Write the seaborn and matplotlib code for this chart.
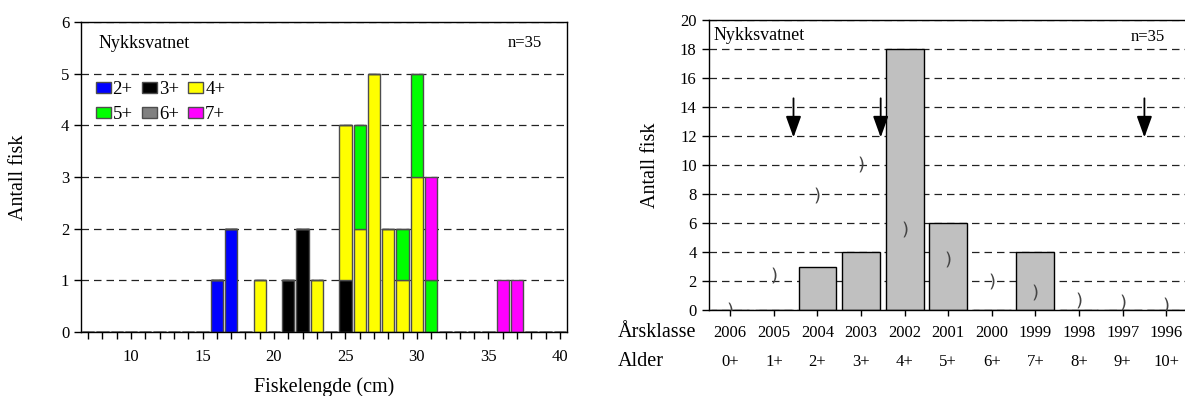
import numpy as np
import pandas as pd
import matplotlib
matplotlib.use("Agg")
import matplotlib.pyplot as plt
from matplotlib.patches import Patch
from matplotlib.ticker import MultipleLocator
from matplotlib import transforms
import seaborn as sns

lake = "Nykksvatnet"
n_label = "n=35"

# Length distribution (cm), split by age group
lengths = [7, 16, 17, 19, 21, 22, 23, 25, 25, 26, 26, 27, 28, 29, 29, 30, 30, 31, 31, 36, 37]
ages = ["3+", "2+", "2+", "4+", "3+", "3+", "4+", "3+", "4+", "4+", "5+", "4+",
        "4+", "4+", "5+", "4+", "5+", "5+", "7+", "7+", "7+"]
counts = [0, 1, 2, 1, 1, 2, 1, 1, 3, 2, 2, 5, 2, 1, 1, 3, 2, 1, 2, 1, 1]

age_groups = ["2+", "3+", "4+", "5+", "6+", "7+"]
age_colors = ["#0000FF", "#000000", "#FFFF00", "#00FF00", "#808080", "#FF00FF"]

# Year classes and age
year_classes = ["2006", "2005", "2004", "2003", "2002", "2001", "2000", "1999", "1998", "1997", "1996"]
age_labels = ["0+", "1+", "2+", "3+", "4+", "5+", "6+", "7+", "8+", "9+", "10+"]
fish_per_class = [0, 0, 3, 4, 18, 6, 0, 4, 0, 0, 0]
curve_marks = [0.0, 2.4, 7.9, 10.1, 5.6, 3.5, 2.0, 1.25, 0.7, 0.55, 0.35]
arrow_positions = [1.45, 3.45, 9.5]
arrow_top, arrow_tip = 14.6, 11.9

sns.set_style("ticks")
plt.rcParams["font.family"] = ["Liberation Serif", "DejaVu Serif"]
plt.rcParams.update({
    "text.color": "black", "axes.labelcolor": "black", "axes.edgecolor": "black",
    "xtick.color": "black", "ytick.color": "black", "axes.linewidth": 1.0,
})

fig = plt.figure(figsize=(11.85, 3.96), dpi=100)
W, H = 1185, 396
ax1 = fig.add_axes([81 / W, (H - 332) / H, 486 / W, 310 / H])
ax2 = fig.add_axes([708.5 / W, (H - 310) / H, 479.5 / W, 290 / H])

grid_kw = dict(color="#222222", linewidth=0.9, linestyle=(0, (6, 4)))

# ---- Length distribution ----
df = pd.DataFrame({"length": lengths, "age": ages, "count": counts})
palette = dict(zip(age_groups, age_colors))
stack_order = ["7+", "5+", "4+", "3+", "2+"]
sns.histplot(data=df, x="length", weights="count", hue="age", hue_order=stack_order,
             palette=palette, multiple="stack", discrete=True, binrange=(7, 40),
             shrink=0.86, alpha=1, edgecolor="#4d4d4d", linewidth=1.0,
             legend=False, ax=ax1)
ax1.set_xlim(6.5, 40.5)
ax1.set_ylim(0, 6)
ax1.set_yticks(range(0, 7))
ax1.xaxis.set_major_locator(MultipleLocator(5))
ax1.xaxis.set_minor_locator(MultipleLocator(1))
ax1.tick_params(axis="both", which="both", direction="out", length=5, width=1,
                labelsize=12)
ax1.tick_params(axis="x", which="major", pad=7)
ax1.set_axisbelow(True)
ax1.yaxis.grid(True, **grid_kw)
ax1.set_xlabel("Fiskelengde (cm)", fontsize=14.5)
ax1.xaxis.set_label_coords(0.5, -0.145)
ax1.set_ylabel("Antall fisk", fontsize=14.5)
ax1.yaxis.set_label_coords(-0.109, 0.5)
for sp in ax1.spines.values():
    sp.set_visible(True)
    sp.set_color("black")
ax1.text(0.037, 0.932, lake, transform=ax1.transAxes, fontsize=13, va="center", ha="left")
ax1.text(0.949, 0.932, n_label, transform=ax1.transAxes, fontsize=12, va="center", ha="right")

legend_order = ["2+", "5+", "3+", "6+", "4+", "7+"]
handles = [Patch(facecolor=palette[a], edgecolor="#4d4d4d", linewidth=1.0) for a in legend_order]
ax1.legend(handles, legend_order, ncol=3, loc="upper left", bbox_to_anchor=(0.03, 0.81),
           frameon=False, fontsize=13.5, handlelength=0.8, handleheight=0.55,
           handletextpad=0.1, columnspacing=0.5, labelspacing=0.45, borderpad=0,
           borderaxespad=0)

# ---- Year class distribution ----
sns.barplot(x=year_classes, y=fish_per_class, order=year_classes, color="#C0C0C0",
            saturation=1, edgecolor="black", linewidth=1.0, width=0.87, ax=ax2)
ax2.set_xlim(-0.5, 10.5)
ax2.set_ylim(0, 20)
ax2.set_yticks(range(0, 21, 2))
ax2.tick_params(axis="both", which="both", direction="out", width=1, labelsize=12)
ax2.tick_params(axis="x", length=4.5, pad=6)
ax2.tick_params(axis="y", length=5)
ax2.set_axisbelow(True)
ax2.yaxis.grid(True, **grid_kw)
ax2.set_xlabel("")
ax2.set_ylabel("Antall fisk", fontsize=14.5)
ax2.yaxis.set_label_coords(-0.101, 0.5)
for sp in ax2.spines.values():
    sp.set_visible(True)
    sp.set_color("black")

sns.scatterplot(x=np.arange(len(curve_marks)), y=curve_marks, marker="$)$", s=130,
                color="#444444", linewidth=0, zorder=4, legend=False, ax=ax2)

for xa in arrow_positions:
    ax2.annotate("", xy=(xa, arrow_tip), xytext=(xa, arrow_top),
                 arrowprops=dict(arrowstyle="-|>,head_length=1.0,head_width=0.36",
                                 mutation_scale=13, color="black", lw=1.3,
                                 shrinkA=0, shrinkB=0), zorder=5)

ax2.text(0.011, 0.948, lake, transform=ax2.transAxes, fontsize=13, va="center", ha="left")
ax2.text(0.952, 0.941, n_label, transform=ax2.transAxes, fontsize=12, va="center", ha="right")

blend = transforms.blended_transform_factory(ax2.transData, ax2.transAxes)
for i, lab in enumerate(age_labels):
    ax2.text(i, -0.179, lab, transform=blend, fontsize=12, ha="center", va="center")
ax2.text(-0.189, -0.076, "Årsklasse", transform=ax2.transAxes, fontsize=14.5,
         ha="left", va="center")
ax2.text(-0.189, -0.179, "Alder", transform=ax2.transAxes, fontsize=14.5,
         ha="left", va="center")

fig.savefig("out.png", dpi=100)
